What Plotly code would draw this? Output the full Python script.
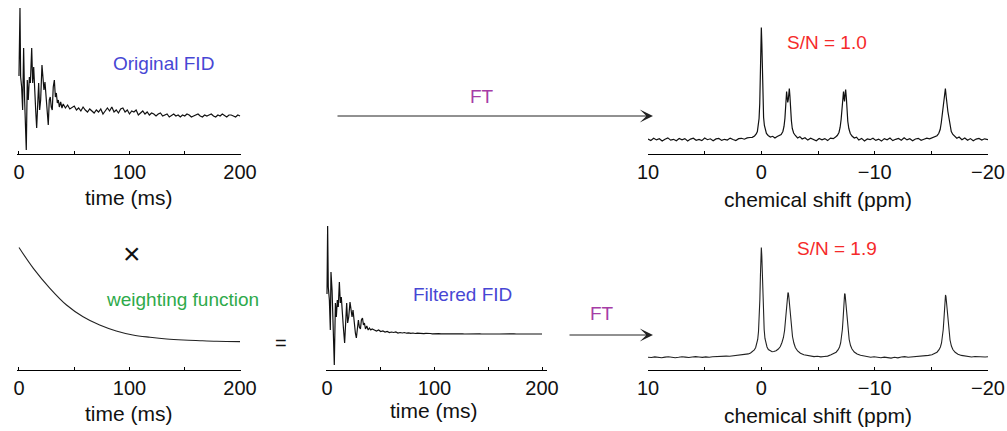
import plotly.graph_objects as go

W, H = 1007, 431
FONT = "Arial, Liberation Sans, Helvetica, sans-serif"


def fx(px):
    return px / W


def fy(py):
    return 1 - py / H


# ---------------- data ----------------
# Original FID: (time in ms, amplitude), dense head then 2 ms samples
orig_fid_head = [
    (0.0, 40), (0.9, 108), (1.5, 39), (2.4, 29), (3.3, 6), (4.2, 68), (5.1, 16),
    (6.0, -7), (6.6, -34), (7.5, 36), (8.4, 16), (9.4, 39), (10.3, 33), (11.5, 68),
    (12.4, 33), (13.3, 49), (14.2, 16), (15.1, 6), (16.0, -12), (16.9, 23), (17.8, 33),
    (18.7, 6), (19.6, 16), (20.8, 51), (21.7, 36), (22.6, 26), (23.5, 34), (24.7, 16),
    (25.6, 3), (26.5, -9), (27.4, 16), (28.3, 19), (29.2, 9), (30.1, 6), (31.0, 29),
    (32.0, 36), (32.9, 19), (33.8, 23), (34.7, 13), (35.6, 16), (36.5, 9), (37.7, 14),
    (38.9, 8),
]
orig_fid_tail_t = list(range(40, 201, 2))
orig_fid_tail_v = [
    12, 8, 11, 7, 9, 10, 6, 8, 5, 9,
    6, 4, 7, 5, 3, 6, 4, 7, 2, 5,
    8, 5, 9, 4, 6, 3, 7, 8, 4, 6,
    2, 5, 4, 6, 1, 3, 5, 2, 4, 1,
    3, 2, 0, 2, 3, 0, 1, 2, -1, 1,
    2, 0, 1, -1, 1, 0, 2, 1, -1, 0,
    1, 2, 0, -1, 1, 0, 1, 2, 0, -1,
    1, 0, 2, 0, -1, 1, 1, 0, -1, 1,
    0,
]

# Exponential weighting function (time in ms, weight)
weight_pts = [
    (0, 1.0), (13, 0.782), (28, 0.573), (43, 0.398), (58, 0.275), (73, 0.188),
    (88, 0.126), (103, 0.084), (118.6, 0.060), (133.6, 0.042), (148.7, 0.031),
    (163.8, 0.024), (179, 0.018), (200, 0.014),
]

# Filtered FID
filt_fid_head = [
    (0.0, 40), (0.6, 108), (1.2, 47), (2.2, 34), (3.1, 4), (3.7, 62), (4.7, 44),
    (5.6, 7), (6.8, -31), (7.8, 31), (8.7, 17), (9.6, 34), (10.5, 27), (11.5, 52),
    (12.4, 31), (13.3, 37), (14.3, 17), (15.2, 7), (16.4, -9), (17.4, 21), (18.3, 31),
    (19.2, 11), (20.2, 17), (21.4, 32), (22.3, 24), (23.3, 17), (24.2, 24), (25.5, 7),
    (26.4, 1), (27.3, -4), (28.3, 11), (29.2, 14), (30.1, 7), (31.1, 5), (32.0, 14),
    (33.0, 16), (33.9, 9), (34.8, 11), (35.8, 5), (37.0, 8), (38.3, 4), (39.5, 6),
    (40.7, 4), (42.0, 5),
]
filt_fid_tail_t = list(range(44, 201, 2))
filt_fid_tail_v = [
    4, 3, 4, 2.5, 3, 2, 2.5, 1.5, 2, 1.5,
    2, 1, 1.5, 1, 1.5, 0.8, 1.2, 0.6, 1, 0.5,
    0.8, 0.4, 0.7, 0.3, 0.6, 0.2, 0.5, 0.2, 0.4, 0.1,
    0.3, 0.1, 0.3, 0, 0.2, 0.1, 0.2, 0, 0.2, 0,
    0.1, 0.1, 0, 0.1, 0, 0.1, 0, 0.1, 0, 0.1,
    0, 0.1, 0, 0, 0.1, 0, 0.1, 0, 0, 0.1,
    0, 0, 0.1, 0, 0, 0.1, 0, 0, 0.1, 0,
    0, 0.1, 0, 0, 0.1, 0, 0, 0.1, 0,
]

# Spectrum of the original FID: (chemical shift in ppm, intensity)
spec_orig = [
    (10.0, 0.5), (9.75, -1.0), (9.5, 1.2), (9.25, -0.4), (9.0, 0.8), (8.75, -1.5),
    (8.5, 0.3), (8.25, 1.6), (8.0, -0.6), (7.75, 0.2), (7.5, -1.2), (7.25, 1.0),
    (7.0, -0.3), (6.75, 0.9), (6.5, -1.4), (6.25, 0.4), (6.0, 1.3), (5.75, -0.8),
    (5.5, 0.1), (5.25, -1.1), (5.0, 1.5), (4.75, -0.2), (4.5, 0.7), (4.25, -1.3),
    (4.0, 0.6), (3.75, 1.1), (3.5, -0.9), (3.25, 0.2), (3.0, -0.5), (2.75, 1.4),
    (2.5, 0.0), (2.25, -1.0), (2.0, 0.8), (1.75, 1.2), (1.5, 0.3), (1.25, 1.6),
    (1.0, 2.0),
    (0.8, 2.2), (0.6, 3.5), (0.45, 5.5), (0.35, 8), (0.27, 13), (0.2, 21), (0.14, 36),
    (0.09, 62), (0.045, 95), (0.0, 112), (-0.045, 96), (-0.09, 63), (-0.14, 37),
    (-0.2, 22), (-0.27, 14), (-0.35, 8.5), (-0.45, 6), (-0.6, 4), (-0.8, 2.5),
    (-1.0, 3.2), (-1.2, 1.5), (-1.4, 3.0), (-1.6, 3.8),
    (-1.75, 5), (-1.9, 8), (-2.0, 13), (-2.08, 21), (-2.14, 32), (-2.19, 43),
    (-2.23, 48), (-2.28, 42), (-2.33, 37), (-2.38, 40), (-2.43, 48), (-2.47, 51),
    (-2.52, 44), (-2.58, 30), (-2.65, 19), (-2.73, 11), (-2.85, 6.5), (-3.0, 4),
    (-3.2, 1.5), (-3.4, 2.8),
    (-3.6, 0.5), (-3.85, 1.8), (-4.1, -0.6), (-4.35, 1.2), (-4.6, 0.2), (-4.85, -1.3),
    (-5.1, 1.0), (-5.35, -0.4), (-5.6, 0.9), (-5.85, -1.1), (-6.1, 1.4), (-6.35, 0.8),
    (-6.55, 2.5), (-6.7, 4), (-6.85, 7), (-6.95, 12), (-7.04, 20), (-7.1, 30),
    (-7.16, 41), (-7.21, 47), (-7.25, 48), (-7.3, 41), (-7.34, 38), (-7.39, 45),
    (-7.44, 50), (-7.5, 42), (-7.56, 29), (-7.63, 18), (-7.72, 11), (-7.85, 6),
    (-8.0, 3.5), (-8.2, 1.5), (-8.4, 2.4),
    (-8.6, -0.5), (-8.85, 1.1), (-9.1, -1.4), (-9.35, 0.6), (-9.6, -0.2), (-9.85, 1.3),
    (-10.1, -0.9), (-10.35, 0.4), (-10.6, -1.6), (-10.85, 0.9), (-11.1, -0.3),
    (-11.35, 1.5), (-11.6, -1.1), (-11.85, 0.2), (-12.1, 1.0), (-12.35, -0.7),
    (-12.6, 1.7), (-12.85, -0.4), (-13.1, 0.8), (-13.35, -1.2), (-13.6, 0.5),
    (-13.85, 1.2), (-14.1, -0.8), (-14.35, 0.3), (-14.6, 1.4), (-14.85, 0.6),
    (-15.1, 1.8),
    (-15.3, 2.5), (-15.5, 3.8), (-15.65, 6), (-15.78, 10), (-15.88, 17), (-15.96, 24),
    (-16.03, 27), (-16.1, 33), (-16.17, 45), (-16.24, 51), (-16.31, 43), (-16.38, 31),
    (-16.46, 28), (-16.55, 22), (-16.65, 13), (-16.76, 8), (-16.9, 5), (-17.05, 3),
    (-17.25, 1.2), (-17.45, 2.5),
    (-17.7, -0.3), (-17.95, 1.5), (-18.2, -0.8), (-18.45, 0.9), (-18.7, -1.2),
    (-18.95, 0.4), (-19.2, 1.1), (-19.45, -0.6), (-19.7, 0.7), (-20.0, -0.2),
]

# Spectrum of the filtered FID
spec_filt = [
    (10.0, 0.3), (9.7, 0.0), (9.4, 0.6), (9.1, 0.2), (8.8, -0.3), (8.5, 0.4),
    (8.2, 0.8), (7.9, 0.3), (7.6, -0.2), (7.3, 0.2), (7.0, 0.7), (6.7, 0.4),
    (6.4, 0.0), (6.1, 0.5), (5.8, 0.9), (5.5, 0.5), (5.2, 0.1), (4.9, 0.6),
    (4.6, 0.3), (4.3, 0.8), (4.0, 1.1), (3.7, 0.7), (3.4, 1.0), (3.1, 1.4),
    (2.8, 1.2), (2.5, 1.6), (2.2, 1.9), (1.9, 2.1), (1.6, 2.5), (1.35, 3.0),
    (1.15, 3.6),
    (0.95, 4.5), (0.78, 5.8), (0.62, 7.6), (0.5, 10), (0.4, 13.5), (0.32, 18),
    (0.25, 26), (0.19, 38), (0.13, 58), (0.08, 82), (0.04, 102), (0.0, 110),
    (-0.04, 102), (-0.08, 83), (-0.13, 60), (-0.19, 40), (-0.25, 28), (-0.32, 19),
    (-0.4, 14), (-0.5, 10.5), (-0.62, 8), (-0.78, 6.5), (-0.95, 5.8), (-1.1, 6.0),
    (-1.3, 6.8), (-1.5, 8.5), (-1.68, 11), (-1.82, 15), (-1.95, 20), (-2.05, 27),
    (-2.13, 36), (-2.2, 46), (-2.26, 56), (-2.31, 62), (-2.35, 65), (-2.39, 64),
    (-2.44, 59), (-2.5, 50), (-2.57, 39), (-2.65, 29), (-2.75, 21), (-2.87, 14.5),
    (-3.0, 10), (-3.2, 6.5), (-3.45, 4.2), (-3.75, 2.8), (-4.05, 2.0),
    (-4.35, 1.3), (-4.65, 0.9), (-4.95, 1.2), (-5.25, 0.6), (-5.55, 1.0), (-5.85, 1.4),
    (-6.15, 2.8), (-6.4, 3.8), (-6.6, 5.3), (-6.78, 7.8), (-6.9, 10.5), (-7.0, 14.5),
    (-7.08, 20), (-7.15, 28), (-7.21, 38), (-7.26, 49), (-7.31, 59), (-7.35, 64),
    (-7.39, 63), (-7.44, 57), (-7.5, 47), (-7.57, 36), (-7.65, 26), (-7.75, 18),
    (-7.87, 12), (-8.0, 8.5), (-8.2, 5.5), (-8.45, 3.5), (-8.75, 2.2), (-9.05, 1.4),
    (-9.35, 0.8), (-9.65, 0.3), (-9.95, 0.7), (-10.25, 0.1), (-10.55, -0.3),
    (-10.85, 0.4), (-11.15, -0.2), (-11.45, -0.6), (-11.75, 0.2), (-12.05, -0.4),
    (-12.35, 0.5), (-12.65, 0.9), (-12.95, 0.3), (-13.25, 0.6), (-13.55, 1.0),
    (-13.85, 0.7), (-14.15, 1.2), (-14.45, 1.6), (-14.75, 2.1),
    (-15.05, 2.8), (-15.3, 3.8), (-15.5, 5.3), (-15.68, 7.8), (-15.8, 10.5),
    (-15.9, 14.5), (-15.98, 20), (-16.05, 28), (-16.11, 38), (-16.16, 48),
    (-16.21, 58), (-16.25, 62.5), (-16.29, 61), (-16.34, 55), (-16.4, 46),
    (-16.47, 35), (-16.55, 25), (-16.65, 17.5), (-16.77, 11.5), (-16.9, 8),
    (-17.1, 5.2), (-17.35, 3.3), (-17.65, 2.1), (-17.95, 1.4),
    (-18.25, 0.9), (-18.55, 0.5), (-18.85, 1.0), (-19.15, 0.6), (-19.45, 0.9),
    (-19.75, 0.5), (-20.0, 0.8),
]

time_ticks = [0, 50, 100, 150, 200]
time_ticktext = ["0", "", "100", "", "200"]
ppm_ticks = [10, 5, 0, -5, -10, -15, -20]
ppm_ticktext = ["10", "", "0", "", "\u221210", "", "\u221220"]

sn_original = "S/N = 1.0"
sn_filtered = "S/N = 1.9"

# ---------------- figure ----------------
orig_t = [p[0] for p in orig_fid_head] + orig_fid_tail_t
orig_v = [p[1] for p in orig_fid_head] + orig_fid_tail_v
filt_t = [p[0] for p in filt_fid_head] + filt_fid_tail_t
filt_v = [p[1] for p in filt_fid_head] + filt_fid_tail_v

line_style = dict(color="#111111", width=1.2)

fig = go.Figure()
fig.add_trace(go.Scatter(x=orig_t, y=orig_v, mode="lines", line=line_style,
                         xaxis="x", yaxis="y"))
fig.add_trace(go.Scatter(x=[p[0] for p in spec_orig], y=[p[1] for p in spec_orig],
                         mode="lines", line=line_style, xaxis="x2", yaxis="y2"))
fig.add_trace(go.Scatter(x=[p[0] for p in weight_pts], y=[p[1] for p in weight_pts],
                         mode="lines", line=dict(color="#222222", width=1.1, shape="spline"),
                         xaxis="x3", yaxis="y3"))
fig.add_trace(go.Scatter(x=filt_t, y=filt_v, mode="lines", line=line_style,
                         xaxis="x4", yaxis="y4"))
fig.add_trace(go.Scatter(x=[p[0] for p in spec_filt], y=[p[1] for p in spec_filt],
                         mode="lines", line=dict(color="#222222", width=1.1),
                         xaxis="x5", yaxis="y5"))


def xaxis_cfg(domain, rng, ticks, ticktext, anchor):
    return dict(domain=domain, range=rng, anchor=anchor, showline=True,
                linecolor="#000000", linewidth=1, ticks="inside", ticklen=3,
                tickcolor="#000000", tickwidth=1, tickvals=ticks, ticktext=ticktext,
                showgrid=False, zeroline=False, automargin=False,
                tickfont=dict(family=FONT, size=20, color="#111111"))


def yaxis_cfg(domain, rng, anchor):
    return dict(domain=domain, range=rng, anchor=anchor, visible=False,
                showgrid=False, zeroline=False, automargin=False)


fig.update_layout(
    width=W, height=H, margin=dict(l=0, r=0, t=0, b=0),
    paper_bgcolor="white", plot_bgcolor="white", showlegend=False,
    font=dict(family=FONT),
    xaxis=xaxis_cfg([fx(17), fx(241)], [-1.8, 200.9], time_ticks, time_ticktext, "y"),
    yaxis=yaxis_cfg([fy(154), fy(0)], [-38, 116], "x"),
    xaxis2=xaxis_cfg([fx(648), fx(988)], [10, -20], ppm_ticks, ppm_ticktext, "y2"),
    yaxis2=yaxis_cfg([fy(154), fy(15)], [-14.5, 124.5], "x2"),
    xaxis3=xaxis_cfg([fx(17), fx(241)], [-1.8, 200.9], time_ticks, time_ticktext, "y3"),
    yaxis3=yaxis_cfg([fy(370), fy(225)], [-0.2827, 1.2356], "x3"),
    xaxis4=xaxis_cfg([fx(326), fx(547.3)], [-0.93, 204.9], time_ticks, time_ticktext, "y4"),
    yaxis4=yaxis_cfg([fy(370), fy(220)], [-36, 114], "x4"),
    xaxis5=xaxis_cfg([fx(648), fx(988)], [10, -20], ppm_ticks, ppm_ticktext, "y5"),
    yaxis5=yaxis_cfg([fy(370), fy(235)], [-12.5, 122.5], "x5"),
)


def label(text, px, py, color, size):
    fig.add_annotation(text=text, x=fx(px), y=fy(py), xref="paper", yref="paper",
                       xanchor="center", yanchor="middle", showarrow=False,
                       font=dict(family=FONT, size=size, color=color))


BLUE = "#4747d4"
RED = "#f52a2a"
GREEN = "#2eaa4a"
PURPLE = "#a63ca6"

# axis titles
label("time (ms)", 129, 197, "#111111", 21)
label("chemical shift (ppm)", 818, 199, "#111111", 21)
label("time (ms)", 129, 413, "#111111", 21)
label("time (ms)", 434, 410, "#111111", 21)
label("chemical shift (ppm)", 818, 415, "#111111", 21)

# panel labels
label("Original FID", 163, 63, BLUE, 19)
label("FT", 482, 97, PURPLE, 19)
label(sn_original, 827, 43, RED, 19)
label("\u00d7", 132, 254, "#111111", 30)
label("weighting function", 182, 299, GREEN, 19)
label("=", 281, 343, "#111111", 20)
label("Filtered FID", 462, 294, BLUE, 19)
label("FT", 602, 313, PURPLE, 19)
label(sn_filtered, 837, 248, RED, 19)

# Fourier-transform arrows
for tip_x, tail_x, y in [(653, 336, 116), (653, 568, 335)]:
    fig.add_annotation(text="", x=fx(tip_x), y=fy(y), xref="paper", yref="paper",
                       ax=tail_x - tip_x, ay=0, showarrow=True, arrowhead=3,
                       arrowsize=2.2, arrowwidth=1, arrowcolor="#222222", standoff=0)

fig.write_html("out.html")
